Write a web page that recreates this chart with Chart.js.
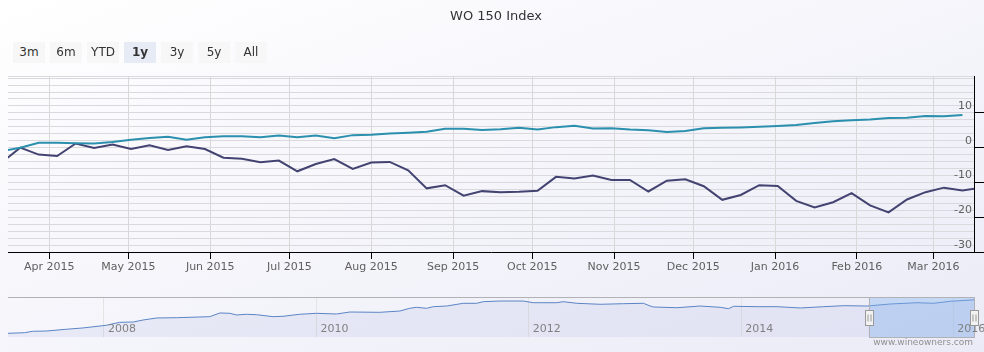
<!DOCTYPE html>
<html>
<head>
<meta charset="utf-8">
<title>WO 150 Index</title>
<script src="https://cdn.jsdelivr.net/npm/chart.js@4.4.1/dist/chart.umd.min.js"></script>
<style>
    html, body { margin: 0; padding: 0; }
    #wrap {
        position: relative; width: 984px; height: 352px; overflow: hidden;
        background: linear-gradient(to bottom right, #ffffff, #ebebf7);
        font-family: "DejaVu Sans", sans-serif;
    }
    #mainChart { position: absolute; left: 0; top: 0; }
    #navChart { position: absolute; left: 0; top: 280px; }
    .rangeBtn {
        position: absolute; top: 42px; width: 32px; height: 21px; line-height: 21px;
        text-align: center; font-size: 12px; color: #333; background: #f7f7f7;
    }
    .rangeBtn.active { background: #e6ebf5; font-weight: bold; }
    #credits { position: absolute; right: 11px; top: 337px; font-size: 9px; color: #909090; }
</style>
</head>
<body>
<div id="wrap">
    <canvas id="mainChart" width="984" height="290"></canvas>
    <canvas id="navChart" width="984" height="72"></canvas>
    <div id="credits">www.wineowners.com</div>
</div>
<script>
// weekly points (Saturdays), % change since the first visible week
var weekDates = [
    '2015-03-14', '2015-03-21', '2015-03-28', '2015-04-04', '2015-04-11', '2015-04-18', '2015-04-25',
    '2015-05-02', '2015-05-09', '2015-05-16', '2015-05-23', '2015-05-30', '2015-06-06', '2015-06-13',
    '2015-06-20', '2015-06-27', '2015-07-04', '2015-07-11', '2015-07-18', '2015-07-25', '2015-08-01',
    '2015-08-08', '2015-08-15', '2015-08-22', '2015-08-29', '2015-09-05', '2015-09-12', '2015-09-19',
    '2015-09-26', '2015-10-03', '2015-10-10', '2015-10-17', '2015-10-24', '2015-10-31', '2015-11-07',
    '2015-11-14', '2015-11-21', '2015-11-28', '2015-12-05', '2015-12-12', '2015-12-19', '2015-12-26',
    '2016-01-02', '2016-01-09', '2016-01-16', '2016-01-23', '2016-01-30', '2016-02-06', '2016-02-13',
    '2016-02-20', '2016-02-27', '2016-03-05', '2016-03-12', '2016-03-19'
];
var wo150Values = [
    -1.0, 0, 1.4, 1.4, 1.3, 1.2, 1.6, 2.3, 2.8, 3.1, 2.3, 3.0, 3.3, 3.3,
    3.0, 3.5, 3.0, 3.5, 2.7, 3.6, 3.7, 4.1, 4.3, 4.6, 5.4, 5.4, 5.1, 5.3,
    5.7, 5.2, 5.9, 6.3, 5.5, 5.6, 5.2, 5.0, 4.5, 4.8, 5.6, 5.7, 5.8, 6.0,
    6.2, 6.5, 7.1, 7.6, 7.9, 8.1, 8.5, 8.6, 9.1, 9.0, 9.4, null
];
var compareValues = [
    -4.3, 0, -2.0, -2.4, 1.2, -0.1, 0.9, -0.4, 0.7, -0.7, 0.4, -0.4, -2.9, -3.2,
    -4.2, -3.7, -6.8, -4.7, -3.3, -6.1, -4.3, -4.1, -6.5, -11.7, -10.8, -13.8, -12.5, -12.8,
    -12.7, -12.4, -8.4, -8.9, -8.0, -9.3, -9.3, -12.6, -9.5, -9.1, -11.1, -15.0, -13.6, -10.8,
    -11.0, -15.3, -17.2, -15.7, -13.1, -16.6, -18.6, -14.9, -12.8, -11.5, -12.3, -11.5
];

var monthTickDates = [
    '2015-04-01', '2015-05-01', '2015-06-01', '2015-07-01', '2015-08-01', '2015-09-01',
    '2015-10-01', '2015-11-01', '2015-12-01', '2016-01-01', '2016-02-01', '2016-03-01'
];
var monthTickLabels = [
    'Apr 2015', 'May 2015', 'Jun 2015', 'Jul 2015', 'Aug 2015', 'Sep 2015',
    'Oct 2015', 'Nov 2015', 'Dec 2015', 'Jan 2016', 'Feb 2016', 'Mar 2016'
];
var yLabelValues = [-30, -20, -10, 0, 10];

// full history shown in the navigator (index level)
var navDates = [
    '2007-02-05', '2007-04-03', '2007-05-01', '2007-06-17', '2007-08-24', '2007-10-20', '2008-01-09',
    '2008-02-24', '2008-04-11', '2008-05-15', '2008-07-01', '2008-09-07', '2008-12-30', '2009-02-03',
    '2009-03-09', '2009-04-01', '2009-05-05', '2009-06-09', '2009-08-05', '2009-09-08', '2009-11-04',
    '2010-01-01', '2010-03-11', '2010-04-26', '2010-08-07', '2010-10-15', '2010-11-18', '2010-12-11',
    '2011-01-15', '2011-02-07', '2011-03-25', '2011-05-21', '2011-07-06', '2011-07-29', '2011-09-25',
    '2011-12-13', '2012-01-17', '2012-04-07', '2012-04-29', '2012-06-15', '2012-09-03', '2012-11-22',
    '2013-01-30', '2013-02-22', '2013-03-06', '2013-05-25', '2013-08-13', '2013-10-21', '2013-11-19',
    '2013-12-06', '2014-02-25', '2014-05-05', '2014-07-24', '2014-10-12', '2014-12-20', '2015-03-10',
    '2015-05-29', '2015-08-29', '2015-10-25', '2015-12-21', '2016-03-12'
];
var navValues = [
    100.0, 101.5, 105.1, 105.8, 110.2, 113.5, 120.3,
    127.9, 128.7, 133.8, 138.9, 139.6, 142.2, 151.6,
    150.8, 146.5, 148.3, 147.2, 142.2, 143.2, 148.3,
    150.8, 149.0, 154.1, 153.3, 156.6, 163.5, 166.0,
    163.5, 167.6, 169.3, 176.2, 176.2, 180.3, 182.0,
    182.0, 177.7, 177.7, 180.3, 176.2, 173.7, 175.2,
    176.2, 169.3, 166.8, 165.0, 169.3, 166.0, 162.5,
    168.6, 167.6, 167.6, 164.3, 167.6, 170.1, 169.3,
    174.4, 177.7, 176.2, 181.3, 185.0
];
var navTickDates = ['2008-01-01', '2010-01-01', '2012-01-01', '2014-01-01', '2016-01-01'];
var navTickLabels = ['2008', '2010', '2012', '2014', '2016'];

var rangeButtons = ['3m', '6m', 'YTD', '1y', '3y', '5y', 'All'];
var activeRange = '1y';

var rangeStart = Date.parse('2015-03-16T09:00:00Z');
var rangeEnd = Date.parse('2016-03-16T09:00:00Z');

Chart.defaults.font.family = '"DejaVu Sans", sans-serif';

function toPoints(dates, values) {
    return dates.map(function (d, i) {
        return { x: Date.parse(d), y: values[i] };
    });
}

// range selector buttons
var wrap = document.getElementById('wrap');
rangeButtons.forEach(function (name, i) {
    var btn = document.createElement('div');
    btn.className = 'rangeBtn' + (name == activeRange ? ' active' : '');
    btn.style.left = (13 + i * 37) + 'px';
    btn.textContent = name;
    wrap.appendChild(btn);
});

var monthTicks = monthTickDates.map(function (d) { return Date.parse(d); });

var mainChart = new Chart(document.getElementById('mainChart').getContext('2d'), {
    type: 'line',
    data: {
        datasets: [{
            label: 'WO 150 Index',
            data: toPoints(weekDates, wo150Values),
            borderColor: '#2b8fae',
            borderWidth: 2,
            pointRadius: 0,
            tension: 0
        }, {
            label: 'Comparison',
            data: toPoints(weekDates, compareValues),
            borderColor: '#434372',
            borderWidth: 2,
            pointRadius: 0,
            tension: 0
        }]
    },
    options: {
        responsive: false,
        animation: false,
        layout: { padding: { left: 8, right: 0, top: 0, bottom: 0 } },
        plugins: {
            legend: { display: false },
            tooltip: { enabled: false },
            title: {
                display: true,
                text: 'WO 150 Index',
                color: '#333',
                font: { size: 13, weight: 'normal' },
                padding: { top: 9, bottom: 51.4 }
            }
        },
        scales: {
            x: {
                type: 'linear',
                min: rangeStart,
                max: rangeEnd,
                afterFit: function (scale) { scale.height = 38; },
                afterBuildTicks: function (scale) {
                    scale.ticks = monthTicks.map(function (v) { return { value: v }; });
                },
                grid: { color: '#d8d8d8', tickColor: '#000', tickLength: 7 },
                border: { color: '#000', width: 1 },
                ticks: {
                    color: '#606060',
                    font: { size: 11 },
                    padding: 2,
                    maxRotation: 0,
                    autoSkip: false,
                    callback: function (value) {
                        var i = monthTicks.indexOf(value);
                        return i >= 0 ? monthTickLabels[i] : '';
                    }
                }
            },
            y: {
                position: 'right',
                min: -30,
                max: 20.6,
                afterFit: function (scale) { scale.width = 10; },
                afterBuildTicks: function (scale) {
                    var ticks = [];
                    for (var v = -30; v <= 20; v += 2) {
                        ticks.push({ value: v });
                    }
                    ticks.push({ value: scale.max });
                    scale.ticks = ticks;
                },
                grid: {
                    color: '#d9d9de',
                    tickLength: 10,
                    tickColor: function (ctx) {
                        return yLabelValues.indexOf(ctx.tick.value) >= 0 ? '#000' : 'rgba(0,0,0,0)';
                    }
                },
                border: { color: '#000', width: 1 },
                ticks: {
                    mirror: true,
                    autoSkip: false,
                    padding: -2,
                    labelOffset: -7,
                    color: '#606060',
                    font: { size: 11 },
                    callback: function (value) {
                        return yLabelValues.indexOf(value) >= 0 ? String(value) : '';
                    }
                }
            }
        }
    }
});

// navigator: selected zone, outline, handles and year labels
var navigatorDecor = {
    id: 'navigatorDecor',
    afterDraw: function (chart) {
        var ctx = chart.ctx;
        var area = chart.chartArea;
        var xs = chart.scales.x;
        var x1 = Math.max(area.left, xs.getPixelForValue(rangeStart));
        var x2 = Math.min(area.right, xs.getPixelForValue(rangeEnd));

        ctx.save();
        ctx.fillStyle = 'rgba(128,179,236,0.38)';
        ctx.fillRect(x1, area.top, x2 - x1, area.bottom - area.top);

        ctx.strokeStyle = '#b2b1b6';
        ctx.lineWidth = 1;
        ctx.beginPath();
        ctx.moveTo(area.left, Math.round(area.top) + 0.5);
        ctx.lineTo(area.right, Math.round(area.top) + 0.5);
        ctx.stroke();
        ctx.strokeRect(Math.round(x1) + 0.5, Math.round(area.top) + 0.5,
            Math.round(x2 - x1), Math.round(area.bottom - area.top));

        // year labels inside the navigator
        ctx.fillStyle = '#808080';
        ctx.font = '11px "DejaVu Sans", sans-serif';
        ctx.textBaseline = 'middle';
        ctx.textAlign = 'left';
        navTickDates.forEach(function (d, i) {
            var px = xs.getPixelForValue(Date.parse(d));
            ctx.fillText(navTickLabels[i], px + 4, area.bottom - 7.5);
        });

        // handles
        var midY = (area.top + area.bottom) / 2;
        [x1, x2].forEach(function (hx) {
            var left = Math.round(hx - 4) + 0.5;
            var top = Math.round(midY - 7.5) + 0.5;
            ctx.fillStyle = '#f2f2f2';
            ctx.strokeStyle = '#999';
            ctx.fillRect(left, top, 8, 15);
            ctx.strokeRect(left, top, 8, 15);
            ctx.beginPath();
            ctx.moveTo(left + 2.5, top + 4);
            ctx.lineTo(left + 2.5, top + 11);
            ctx.moveTo(left + 5.5, top + 4);
            ctx.lineTo(left + 5.5, top + 11);
            ctx.stroke();
        });
        ctx.restore();
    }
};

var navChart = new Chart(document.getElementById('navChart').getContext('2d'), {
    type: 'line',
    data: {
        datasets: [{
            label: 'WO 150 Index',
            data: toPoints(navDates, navValues),
            borderColor: '#5a84c4',
            borderWidth: 1,
            backgroundColor: 'rgba(70,90,190,0.07)',
            fill: 'start',
            pointRadius: 0,
            tension: 0
        }]
    },
    options: {
        responsive: false,
        animation: false,
        layout: { padding: { left: 8, right: 10, top: 17, bottom: 15 } },
        plugins: { legend: { display: false }, tooltip: { enabled: false } },
        scales: {
            x: {
                type: 'linear',
                min: Date.parse(navDates[0]),
                max: Date.parse(navDates[navDates.length - 1]),
                afterFit: function (scale) { scale.height = 0; },
                afterBuildTicks: function (scale) {
                    scale.ticks = navTickDates.map(function (d) { return { value: Date.parse(d) }; });
                },
                ticks: { display: false },
                grid: { color: '#e4e4e4', drawTicks: false },
                border: { display: false }
            },
            y: { display: false, min: 90.6, max: 192.2 }
        }
    },
    plugins: [navigatorDecor]
});
</script>
</body>
</html>
